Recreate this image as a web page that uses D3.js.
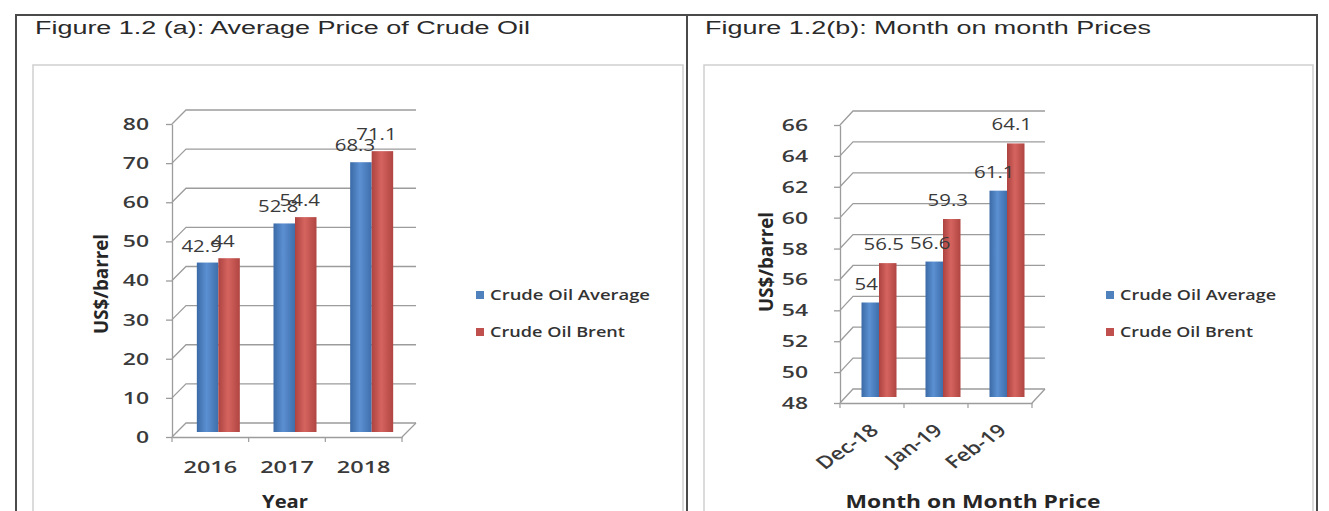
<!DOCTYPE html>
<html>
<head>
<meta charset="utf-8">
<script src="https://cdn.jsdelivr.net/npm/d3@7"></script>
<style>
  html, body { margin: 0; padding: 0; background: #fff; }
  svg { display: block; }
</style>
</head>
<body>
<svg id="chart" width="1329" height="511"></svg>
<script>
// ---- data ----
const yearCategories = ["2016", "2017", "2018"];
const yearAverage = [42.9, 52.8, 68.3];
const yearBrent = [44, 54.4, 71.1];
const yearTicks = [0, 10, 20, 30, 40, 50, 60, 70, 80];

const monthCategories = ["Dec-18", "Jan-19", "Feb-19"];
const monthAverage = [54, 56.6, 61.1];
const monthBrent = [56.5, 59.3, 64.1];
const monthTicks = [48, 50, 52, 54, 56, 58, 60, 62, 64, 66];

const seriesNames = ["Crude Oil Average", "Crude Oil Brent"];
const seriesColors = ["#4f81bd", "#c0504d"];

// ---- styling ----
const GRID = "#9c9c9c";
const TEXT = "#3a3a3a";
const FONT = "'Open Sans', 'DejaVu Sans', sans-serif";
const TITLE_FONT = "'Liberation Sans', Arial, sans-serif";

const svg = d3.select("#chart");

// bar shading (slightly lit in the middle)
const defs = svg.append("defs");
const gradStops = [
  ["#3b6aa6", "#5b90d2", "#3f6eab"],
  ["#ad4340", "#d5645f", "#b04541"]
];
gradStops.forEach((stops, k) => {
  const lg = defs.append("linearGradient").attr("id", "barGrad" + k)
    .attr("x1", 0).attr("x2", 1).attr("y1", 0).attr("y2", 0);
  lg.append("stop").attr("offset", "0%").attr("stop-color", stops[0]);
  lg.append("stop").attr("offset", "45%").attr("stop-color", stops[1]);
  lg.append("stop").attr("offset", "100%").attr("stop-color", stops[2]);
});

// ---- frames ----
svg.append("path")
  .attr("d", "M16,511L16,15L1317,15L1317,511M687,15L687,511")
  .attr("fill", "none").attr("stroke", "#4a4a4a").attr("stroke-width", 2);
svg.append("path")
  .attr("d", "M33,511L33,65L683,65L683,511M704,511L704,65L1313,65L1313,511")
  .attr("fill", "none").attr("stroke", "#cfcfcf").attr("stroke-width", 1.5);

const panels = [
  {
    title: "Figure 1.2 (a): Average Price of Crude Oil",
    categories: yearCategories,
    series: [yearAverage, yearBrent],
    ticks: yearTicks,
    xTitle: "Year",
    yTitle: "US$/barrel",
    layout: {
      titleX: 35, titleW: 495,
      x0: 172, x1: 402, dx: 14, dy: -14,
      front: [437, 124], bar: [432, 116],
      groupW: 43, groupShift: 8,
      labelDx: -6, labelDy: -11,
      tickRight: 149,
      rotate: 0, catDx: 0, catDy: 36, catSize: 17, catSx: 1.38,
      xTitleX: 285, xTitleW: 46,
      yTitleX: 101, yTitleY: 284,
      legendX: 476, legendY: 295, legendTextW: [160, 135]
    }
  },
  {
    title: "Figure 1.2(b): Month on month Prices",
    categories: monthCategories,
    series: [monthAverage, monthBrent],
    ticks: monthTicks,
    xTitle: "Month on Month Price",
    yTitle: "US$/barrel",
    layout: {
      titleX: 705, titleW: 446,
      x0: 840, x1: 1032, dx: 13, dy: -14,
      front: [403, 125], bar: [397, 113.5],
      groupW: 35, groupShift: 7,
      labelDx: -4, labelDy: -13,
      tickRight: 808,
      rotate: 42, catDx: 8, catDy: 29, catSize: 17.5, catSx: 1.3,
      xTitleX: 973, xTitleW: 255,
      yTitleX: 766, yTitleY: 262,
      legendX: 1106, legendY: 295, legendTextW: [156, 133]
    }
  }
];

const SX_TICK = 1.35;
const SX_LABEL = 1.2;

function drawPanel(p) {
  const L = p.layout;
  const g = svg.append("g");
  const dom = d3.extent(p.ticks);

  const yFront = d3.scaleLinear().domain(dom).range(L.front);
  const yBar = d3.scaleLinear().domain(dom).range(L.bar);
  const x = d3.scaleBand().domain(p.categories).range([L.x0, L.x1]);
  const xs = d3.scaleBand().domain(seriesNames).range([-L.groupW / 2, L.groupW / 2]);
  const base = yFront(dom[0]);

  // title
  g.append("text")
    .attr("x", L.titleX).attr("y", 34)
    .attr("textLength", L.titleW).attr("lengthAdjust", "spacingAndGlyphs")
    .attr("font-family", TITLE_FONT).attr("font-size", 18).attr("fill", "#2a2a2a")
    .text(p.title);

  // side-wall and back-wall gridlines
  g.append("g").selectAll("path").data(p.ticks).join("path")
    .attr("d", v => `M${L.x0},${yFront(v)}L${L.x0 + L.dx},${yFront(v) + L.dy}L${L.x1 + L.dx},${yFront(v) + L.dy}`)
    .attr("fill", "none").attr("stroke", GRID).attr("stroke-width", 1.3);

  // floor: right edge and small ticks between categories
  g.append("path")
    .attr("d", `M${L.x1},${base}L${L.x1 + L.dx},${base + L.dy}`)
    .attr("fill", "none").attr("stroke", GRID).attr("stroke-width", 1.3);
  const bounds = p.categories.map(c => x(c)).concat([L.x1]);
  g.append("g").selectAll("path").data(bounds).join("path")
    .attr("d", b => `M${b},${base}L${b},${base + 5}`)
    .attr("stroke", GRID).attr("stroke-width", 1.2);

  // value axis
  const yAxis = g.append("g").attr("transform", `translate(${L.x0},0)`)
    .call(d3.axisLeft(yFront).tickValues(p.ticks).tickSize(6).tickSizeOuter(0));
  yAxis.attr("font-size", null).attr("font-family", null);
  yAxis.select(".domain").attr("stroke", GRID).attr("stroke-width", 1.3);
  yAxis.selectAll(".tick line").attr("stroke", GRID).attr("stroke-width", 1.3);
  const pad = L.x0 - L.tickRight;
  yAxis.selectAll(".tick text")
    .attr("x", -pad / SX_TICK)
    .attr("transform", `scale(${SX_TICK},1)`)
    .attr("font-family", FONT).attr("font-size", 17).attr("font-weight", 600)
    .attr("fill", TEXT);

  // category axis (floor front edge)
  const xAxis = g.append("g").attr("transform", `translate(0,${base})`)
    .call(d3.axisBottom(x).tickSize(0).tickSizeOuter(0));
  xAxis.attr("font-size", null).attr("font-family", null);
  xAxis.select(".domain").attr("stroke", GRID).attr("stroke-width", 1.3);
  const xt = xAxis.selectAll(".tick text")
    .attr("font-family", FONT).attr("font-size", L.catSize).attr("font-weight", 600)
    .attr("fill", TEXT).attr("x", 0).attr("y", 0).attr("dy", 0);
  if (L.rotate) {
    xt.attr("text-anchor", "end")
      .attr("transform", `translate(${L.catDx},${L.catDy}) scale(${L.catSx},1) rotate(${-L.rotate})`);
  } else {
    xt.attr("text-anchor", "middle")
      .attr("transform", `translate(${L.catDx},${L.catDy}) scale(${L.catSx},1)`);
  }

  // bars
  const recs = p.categories.flatMap((c, i) =>
    seriesNames.map((s, k) => ({ c, s, k, v: p.series[k][i] })));
  const bx = d => x(d.c) + x.bandwidth() / 2 + L.groupShift + xs(d.s);
  g.append("g").selectAll("rect").data(recs).join("rect")
    .attr("x", bx)
    .attr("width", xs.bandwidth())
    .attr("y", d => yBar(d.v))
    .attr("height", d => yBar(dom[0]) - yBar(d.v))
    .attr("fill", d => `url(#barGrad${d.k})`);

  // value labels
  g.append("g").selectAll("g").data(recs).join("g")
    .attr("transform", d =>
      `translate(${bx(d) + xs.bandwidth() / 2 + L.labelDx},${yBar(d.v) + L.labelDy}) scale(${SX_LABEL},1)`)
    .append("text")
    .attr("text-anchor", "middle")
    .attr("font-family", FONT).attr("font-size", 17)
    .attr("fill", TEXT)
    .text(d => String(d.v));

  // axis titles
  g.append("text")
    .attr("x", L.xTitleX).attr("y", 508)
    .attr("text-anchor", "middle")
    .attr("textLength", L.xTitleW).attr("lengthAdjust", "spacingAndGlyphs")
    .attr("font-family", FONT).attr("font-size", 17).attr("font-weight", 700)
    .attr("fill", "#262626")
    .text(p.xTitle);

  g.append("g")
    .attr("transform", `translate(${L.yTitleX},${L.yTitleY}) scale(1.25,1) rotate(-90)`)
    .append("text")
    .attr("text-anchor", "middle").attr("dy", "0.35em")
    .attr("textLength", 100).attr("lengthAdjust", "spacingAndGlyphs")
    .attr("font-family", FONT).attr("font-size", 16).attr("font-weight", 700)
    .attr("fill", "#262626")
    .text(p.yTitle);

  // legend
  const lg = g.append("g").selectAll("g").data(seriesNames).join("g")
    .attr("transform", (d, i) => `translate(${L.legendX},${L.legendY + i * 37})`);
  lg.append("rect")
    .attr("x", 0).attr("y", -4).attr("width", 8).attr("height", 8)
    .attr("fill", (d, i) => seriesColors[i]);
  lg.append("text")
    .attr("x", 14).attr("dy", "0.36em")
    .attr("textLength", (d, i) => L.legendTextW[i]).attr("lengthAdjust", "spacingAndGlyphs")
    .attr("font-family", FONT).attr("font-size", 14).attr("font-weight", 600)
    .attr("fill", "#333")
    .text(d => d);
}

panels.forEach(drawPanel);
</script>
</body>
</html>
